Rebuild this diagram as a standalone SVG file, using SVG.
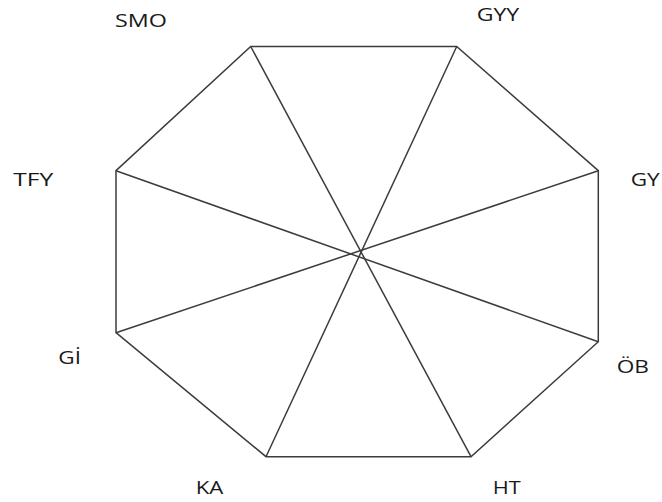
<svg xmlns="http://www.w3.org/2000/svg" width="662" height="502" viewBox="0 0 662 502">
<style>
.ln{stroke:#3c3c3c;stroke-width:1.5;fill:none;stroke-linejoin:miter}
.lb{font-family:"Open Sans","Liberation Sans",sans-serif;font-size:17.5px;fill:#1a1a1a}
</style>
<rect width="662" height="502" fill="#fff"/>
<g id="connectors">
<polygon class="ln" points="250.7,46.5 456.7,46.5 598.3,170.7 598.3,341.7 471,456.7 266,456.7 116,332.7 116,170.7"/>
<line class="ln" x1="250.7" y1="46.5" x2="471" y2="456.7"/>
<line class="ln" x1="456.7" y1="46.5" x2="266" y2="456.7"/>
<line class="ln" x1="598.3" y1="170.7" x2="116" y2="332.7"/>
<line class="ln" x1="116" y1="170.7" x2="598.3" y2="341.7"/>
</g>
<g id="SMO"><text class="lb" x="115" y="26.5" textLength="52" lengthAdjust="spacingAndGlyphs">SMO</text></g>
<g id="GYY"><text class="lb" x="476.7" y="21" textLength="42.6" lengthAdjust="spacingAndGlyphs">GYY</text></g>
<g id="TFY"><text class="lb" x="13.3" y="185.7" textLength="40" lengthAdjust="spacingAndGlyphs">TFY</text></g>
<g id="GY"><text class="lb" x="630.7" y="185.7" textLength="29" lengthAdjust="spacingAndGlyphs">GY</text></g>
<g id="Gi"><text class="lb" x="58.3" y="364" textLength="22.7" lengthAdjust="spacingAndGlyphs">Gİ</text></g>
<g id="OB"><text class="lb" x="616.7" y="373.3" textLength="32.3" lengthAdjust="spacingAndGlyphs">ÖB</text></g>
<g id="KA"><text class="lb" x="195.7" y="494" textLength="27.6" lengthAdjust="spacingAndGlyphs">KA</text></g>
<g id="HT"><text class="lb" x="492.7" y="494" textLength="28" lengthAdjust="spacingAndGlyphs">HT</text></g>
</svg>
